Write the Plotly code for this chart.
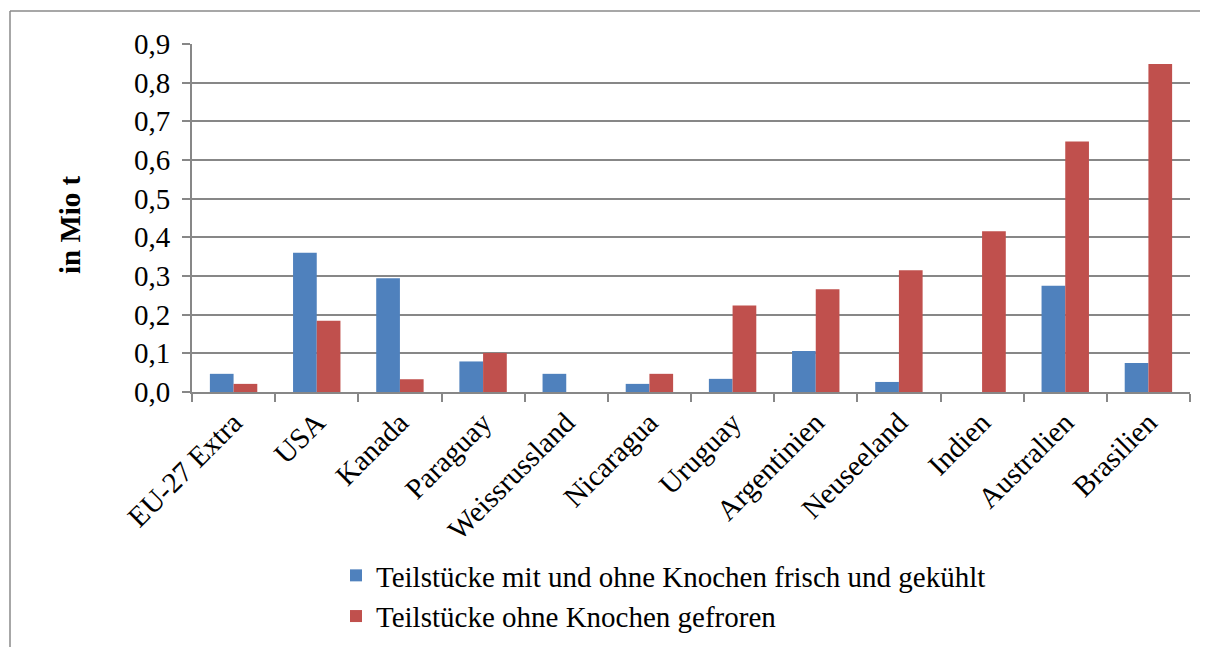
import plotly.graph_objects as go

categories = ["EU-27 Extra", "USA", "Kanada", "Paraguay", "Weissrussland", "Nicaragua",
              "Uruguay", "Argentinien", "Neuseeland", "Indien", "Australien", "Brasilien"]
frisch = [0.047, 0.360, 0.294, 0.079, 0.047, 0.021, 0.034, 0.106, 0.026, 0.0, 0.275, 0.075]
gefroren = [0.021, 0.184, 0.033, 0.101, 0.0, 0.047, 0.224, 0.266, 0.315, 0.416, 0.648, 0.848]
series_names = ["Teilstücke mit und ohne Knochen frisch und gekühlt",
                "Teilstücke ohne Knochen gefroren"]
y_ticks = [0, 0.1, 0.2, 0.3, 0.4, 0.5, 0.6, 0.7, 0.8, 0.9]
y_labels = ["0,0", "0,1", "0,2", "0,3", "0,4", "0,5", "0,6", "0,7", "0,8", "0,9"]

FONT = "Times New Roman"
GRID = "#878787"

fig = go.Figure()
fig.add_trace(go.Bar(x=categories, y=frisch, name=series_names[0],
                     marker=dict(color="#4F81BD", line=dict(width=0)),
                     legendgroup="a"))
fig.add_trace(go.Bar(x=categories, y=gefroren, name=series_names[1],
                     marker=dict(color="#C0504D", line=dict(width=0)),
                     legendgroup="b"))

# page body has an 8px margin; figure is placed at (8, 8) in the window
OFF = 8
W, H = 1200, 639
L, R, T, B = 184, 18, 36, 255
pw, ph = W - L - R, H - T - B

def px2x(px):
    return (px - OFF - L) / pw

def py2y(py):
    return (H - B - (py - OFF)) / ph

# outer chart frame (top and left edges visible)
fig.add_shape(type="line", xref="paper", yref="paper",
              x0=px2x(10), x1=px2x(1215), y0=py2y(11), y1=py2y(11),
              line=dict(color="#8A8A8A", width=1.5))
fig.add_shape(type="line", xref="paper", yref="paper",
              x0=px2x(10), x1=px2x(10), y0=py2y(11), y1=py2y(660),
              line=dict(color="#8A8A8A", width=1.5))

fig.add_annotation(text="<b>in Mio t</b>", xref="paper", yref="paper",
                   x=px2x(70), y=py2y(225), xanchor="center", yanchor="middle",
                   textangle=-90, showarrow=False,
                   font=dict(family=FONT, size=29, color="black"))

fig.update_layout(
    width=W, height=H,
    margin=dict(l=L, r=R, t=T, b=B, autoexpand=False),
    paper_bgcolor="white", plot_bgcolor="white",
    barmode="group", bargap=0.43, bargroupgap=0,
    font=dict(family=FONT, size=29, color="black"),
    showlegend=True,
    legend=dict(x=px2x(336), y=py2y(550), xanchor="left", yanchor="top",
                font=dict(family=FONT, size=29, color="black"),
                traceorder="grouped", tracegroupgap=0,
                itemwidth=30, bgcolor="rgba(0,0,0,0)"),
    xaxis=dict(type="category", tickangle=-45, showgrid=False,
               showline=True, linecolor=GRID, linewidth=2,
               ticks="outside", ticklen=8, tickcolor=GRID, tickwidth=2,
               tickson="boundaries",
               tickfont=dict(family=FONT, size=29, color="black")),
    yaxis=dict(range=[0, 0.9], tickvals=y_ticks, ticktext=y_labels,
               showgrid=True, gridcolor=GRID, gridwidth=2,
               showline=True, linecolor=GRID, linewidth=2,
               ticks="outside", ticklen=8, tickcolor=GRID, tickwidth=2,
               ticklabelstandoff=6,
               zeroline=False,
               tickfont=dict(family=FONT, size=29, color="black")),
)

fig.write_html("out.html")
